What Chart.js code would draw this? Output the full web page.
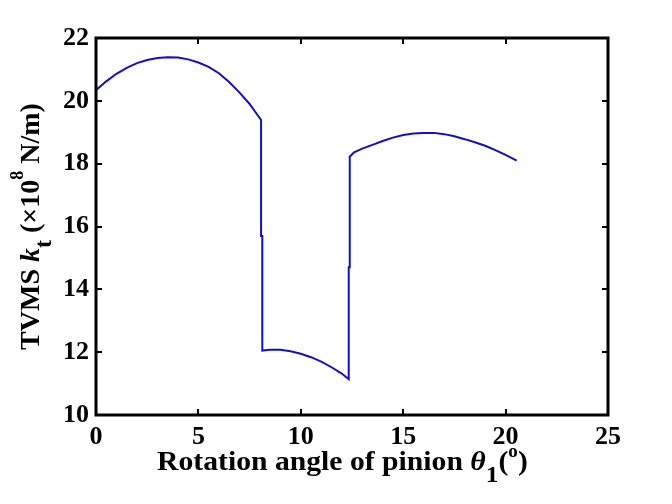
<!DOCTYPE html>
<html>
<head>
<meta charset="utf-8">
<script src="https://cdn.jsdelivr.net/npm/chart.js@4.4.0/dist/chart.umd.min.js"></script>
<style>
  html, body { margin: 0; padding: 0; background: #fff; }
  #wrap { width: 672px; height: 504px; }
</style>
</head>
<body>
<div id="wrap"><canvas id="tvmsChart" width="672" height="504"></canvas></div>
<script>
// Rotation angle of pinion (deg) and mesh stiffness (x10^8 N/m)
var angle = [0, 0.5, 1.0, 1.5, 2.0, 2.5, 3.0, 3.5, 4.0, 4.5, 5.0, 5.5, 6.0, 6.5, 7.0, 7.5, 8.06,
  8.06, 8.12, 8.12, 8.5, 9.0, 9.5, 10.0, 10.5, 11.0, 11.5, 12.0, 12.34,
  12.34, 12.39, 12.39, 12.6, 13.0, 13.5, 14.0, 14.5, 15.0, 15.5, 16.0, 16.5, 17.0, 17.5, 18.0, 18.5, 19.0, 19.5, 20.0, 20.54];
var stiffness = [20.34, 20.62, 20.86, 21.05, 21.2, 21.3, 21.36, 21.39, 21.38, 21.32, 21.22, 21.08, 20.88, 20.6, 20.27, 19.9, 19.39,
  15.7, 15.7, 12.05, 12.08, 12.08, 12.03, 11.95, 11.84, 11.7, 11.52, 11.32, 11.14,
  14.7, 14.7, 18.22, 18.36, 18.48, 18.6, 18.72, 18.83, 18.91, 18.96, 18.98, 18.98, 18.94, 18.87, 18.78, 18.68, 18.57, 18.43, 18.28, 18.1];
var xTicks = [0, 5, 10, 15, 20, 25];
var yTicks = [10, 12, 14, 16, 18, 20, 22];

var serif = '"Liberation Serif", "Times New Roman", serif';

var points = angle.map(function(a, i) {
  return { x: a, y: stiffness[i] };
});

// draw a line of text made of pieces (normal / italic / sub / sup)
function richWidth(ctx, parts) {
  var w = 0;
  parts.forEach(function(p) {
    ctx.font = p.font;
    w += ctx.measureText(p.text).width;
  });
  return w;
}
function drawRich(ctx, parts, x, y) {
  parts.forEach(function(p) {
    ctx.font = p.font;
    ctx.fillText(p.text, x, y + (p.dy || 0));
    x += ctx.measureText(p.text).width;
  });
}

var boxPlugin = {
  id: 'boxPlugin',
  afterDraw: function(chart) {
    var ctx = chart.ctx;
    var area = chart.chartArea;
    var xs = chart.scales.x;
    var ys = chart.scales.y;
    var len = 6;
    ctx.save();
    ctx.strokeStyle = '#000';
    ctx.lineWidth = 2;
    // inward ticks on all four sides
    ctx.beginPath();
    xs.ticks.forEach(function(t) {
      var px = Math.round(xs.getPixelForValue(t.value));
      ctx.moveTo(px, area.bottom); ctx.lineTo(px, area.bottom - len);
      ctx.moveTo(px, area.top); ctx.lineTo(px, area.top + len);
    });
    ys.ticks.forEach(function(t) {
      var py = Math.round(ys.getPixelForValue(t.value));
      ctx.moveTo(area.left, py); ctx.lineTo(area.left + len, py);
      ctx.moveTo(area.right, py); ctx.lineTo(area.right - len, py);
    });
    ctx.stroke();
    ctx.lineWidth = 3;
    ctx.strokeRect(area.left, area.top, area.right - area.left, area.bottom - area.top);

    // axis titles
    ctx.fillStyle = '#000';
    ctx.textBaseline = 'alphabetic';
    var b = 'bold 28px ' + serif;
    var bi = 'italic bold 28px ' + serif;
    var sub = 'bold 24px ' + serif;
    var sm = 'bold 18px ' + serif;
    var xParts = [
      { text: 'Rotation angle of pinion ', font: b },
      { text: '\u03b8', font: bi },
      { text: '1', font: sub, dy: 12 },
      { text: '(', font: b },
      { text: 'o', font: sm, dy: -13 },
      { text: ')', font: b }
    ];
    ctx.save();
    ctx.translate(157, 470);
    ctx.scale(1.06, 1);
    drawRich(ctx, xParts, 0, 0);
    ctx.restore();

    var yParts = [
      { text: 'TVMS ', font: b },
      { text: 'k', font: bi },
      { text: 't', font: sub, dy: 12 },
      { text: ' (\u00d710', font: b },
      { text: '8', font: sm, dy: -16 },
      { text: ' N/m)', font: b }
    ];
    var yw = richWidth(ctx, yParts);
    ctx.translate(39, (area.top + area.bottom) / 2);
    ctx.rotate(-Math.PI / 2);
    drawRich(ctx, yParts, -yw / 2, 0);
    ctx.restore();
  }
};

var ctx = document.getElementById('tvmsChart').getContext('2d');
var tvmsChart = new Chart(ctx, {
  type: 'scatter',
  data: {
    datasets: [{
      data: points,
      showLine: true,
      borderColor: '#1010c8',
      borderWidth: 2,
      pointRadius: 0,
      fill: false,
      tension: 0
    }]
  },
  options: {
    responsive: false,
    animation: false,
    layout: { padding: { top: 38, right: 64, left: 0, bottom: 0 } },
    plugins: {
      legend: { display: false },
      tooltip: { enabled: false }
    },
    scales: {
      x: {
        type: 'linear',
        min: 0,
        max: 25,
        afterBuildTicks: function(scale) {
          scale.ticks = xTicks.map(function(v) { return { value: v }; });
        },
        afterFit: function(scale) { scale.height = 89; },
        grid: { display: false, drawTicks: false },
        border: { display: false },
        ticks: {
          color: '#000',
          padding: 7,
          maxRotation: 0,
          font: { family: serif, size: 26, weight: 'bold' }
        }
      },
      y: {
        type: 'linear',
        min: 10,
        max: 22,
        afterBuildTicks: function(scale) {
          scale.ticks = yTicks.map(function(v) { return { value: v }; });
        },
        afterFit: function(scale) { scale.width = 96; },
        grid: { display: false, drawTicks: false },
        border: { display: false },
        ticks: {
          color: '#000',
          padding: 7,
          font: { family: serif, size: 26, weight: 'bold' }
        }
      }
    }
  },
  plugins: [boxPlugin]
});
</script>
</body>
</html>
